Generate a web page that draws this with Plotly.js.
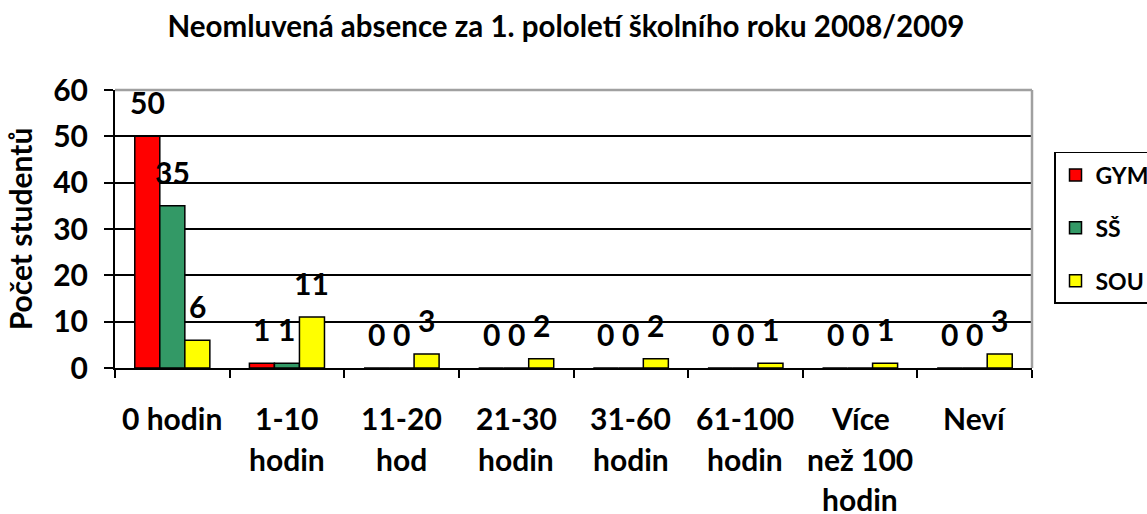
<!DOCTYPE html>
<html>
<head>
<meta charset="utf-8">
<script src="https://cdn.plot.ly/plotly-3.0.1.min.js"></script>
<style>html,body{margin:0;padding:0;background:#fff;}#chart{width:1147px;height:514px;}</style>
</head>
<body>
<div id="chart"></div>
<script>
const chartTitle = 'Neomluvená absence za 1. pololetí školního roku 2008/2009';
const yTitle = 'Počet studentů';
const categories = ['0 hodin', '1-10 hodin', '11-20 hod', '21-30 hodin', '31-60 hodin', '61-100 hodin', 'Více než 100 hodin', 'Neví'];
const tickLabelLines = [['0 hodin'], ['1-10', 'hodin'], ['11-20', 'hod'], ['21-30', 'hodin'], ['31-60', 'hodin'], ['61-100', 'hodin'], ['Více', 'než 100', 'hodin'], ['Neví']];
const seriesNames = ['GYM', 'SŠ', 'SOU'];
const gym = [50, 1, 0, 0, 0, 0, 0, 0];
const ss = [35, 1, 0, 0, 0, 0, 0, 0];
const sou = [6, 11, 3, 2, 2, 1, 1, 3];
const yTicks = [0, 10, 20, 30, 40, 50, 60];

const colors = ['#FF0000', '#339966', '#FFFF00'];
const FONT = 'Lato, "Open Sans", sans-serif';
const bargap = 0.345;
const seriesValues = [gym, ss, sou];

const traces = seriesValues.map((vals, k) => ({
  type: 'bar',
  name: seriesNames[k],
  x: categories,
  y: vals,
  legendgroup: 'g' + k,
  marker: {color: colors[k], line: {color: '#000', width: 1.5}},
  hoverinfo: 'none'
}));

const annotations = [];
const barW = (1 - bargap) / seriesValues.length;
seriesValues.forEach((vals, k) => {
  vals.forEach((v, i) => {
    annotations.push({
      x: i + (k - (seriesValues.length - 1) / 2) * barW,
      y: v, xref: 'x', yref: 'y',
      text: String(v), showarrow: false,
      yanchor: 'middle', xanchor: 'center', yshift: 34,
      font: {family: FONT, size: 30, color: '#000', weight: 'bold'}
    });
  });
});
tickLabelLines.forEach((lines, i) => {
  lines.forEach((t, j) => {
    annotations.push({
      x: i, y: 0, xref: 'x', yref: 'y',
      text: t, showarrow: false,
      yanchor: 'middle', xanchor: 'center', yshift: -50 - 40.5 * j,
      font: {family: FONT, size: 30, color: '#000', weight: 'bold'}
    });
  });
});

const layout = {
  width: 1147, height: 514,
  paper_bgcolor: '#fff', plot_bgcolor: '#fff',
  margin: {l: 115, r: 115, t: 90, b: 146, autoexpand: false},
  font: {family: FONT, color: '#000'},
  title: {
    text: chartTitle,
    font: {family: FONT, size: 29.5, color: '#000', weight: 'bold'},
    xref: 'container', x: 566 / 1147, xanchor: 'center',
    yref: 'container', y: 1 - 27 / 514, yanchor: 'middle'
  },
  barmode: 'group', bargap: bargap, bargroupgap: 0,
  showlegend: true,
  legend: {
    x: 1.024, y: 0.777, xanchor: 'left', yanchor: 'top',
    xref: 'paper', yref: 'paper',
    bordercolor: '#000', borderwidth: 1.5, bgcolor: '#fff',
    font: {family: FONT, size: 23, color: '#000', weight: 'bold'},
    tracegroupgap: 20, traceorder: 'grouped'
  },
  xaxis: {
    type: 'category',
    showticklabels: false,
    tickson: 'boundaries', ticks: 'outside', ticklen: 8, tickwidth: 2, tickcolor: '#000',
    showline: true, linecolor: '#000', linewidth: 2,
    showgrid: false, zeroline: false, fixedrange: true
  },
  yaxis: {
    range: [0, 60], tickvals: yTicks, ticktext: yTicks.map(String),
    ticks: 'outside', ticklen: 9, tickwidth: 2, tickcolor: '#000',
    ticklabelstandoff: 10,
    tickfont: {family: FONT, size: 30, color: '#000', weight: 'bold'},
    showline: true, linecolor: '#000', linewidth: 2,
    showgrid: true, gridcolor: '#000', gridwidth: 2,
    zeroline: false, fixedrange: true,
    title: {text: yTitle, standoff: 12, font: {family: FONT, size: 30, color: '#000', weight: 'bold'}}
  },
  shapes: [
    {type: 'line', xref: 'x domain', yref: 'y domain', x0: 0, x1: 1, y0: 1, y1: 1, line: {color: '#A0A0A0', width: 2.5}, layer: 'above'},
    {type: 'line', xref: 'x domain', yref: 'y domain', x0: 1, x1: 1, y0: 0, y1: 1, line: {color: '#A0A0A0', width: 2.5}, layer: 'above'}
  ],
  annotations: annotations
};

Plotly.newPlot('chart', traces, layout, {staticPlot: true, displayModeBar: false});
</script>
</body>
</html>
